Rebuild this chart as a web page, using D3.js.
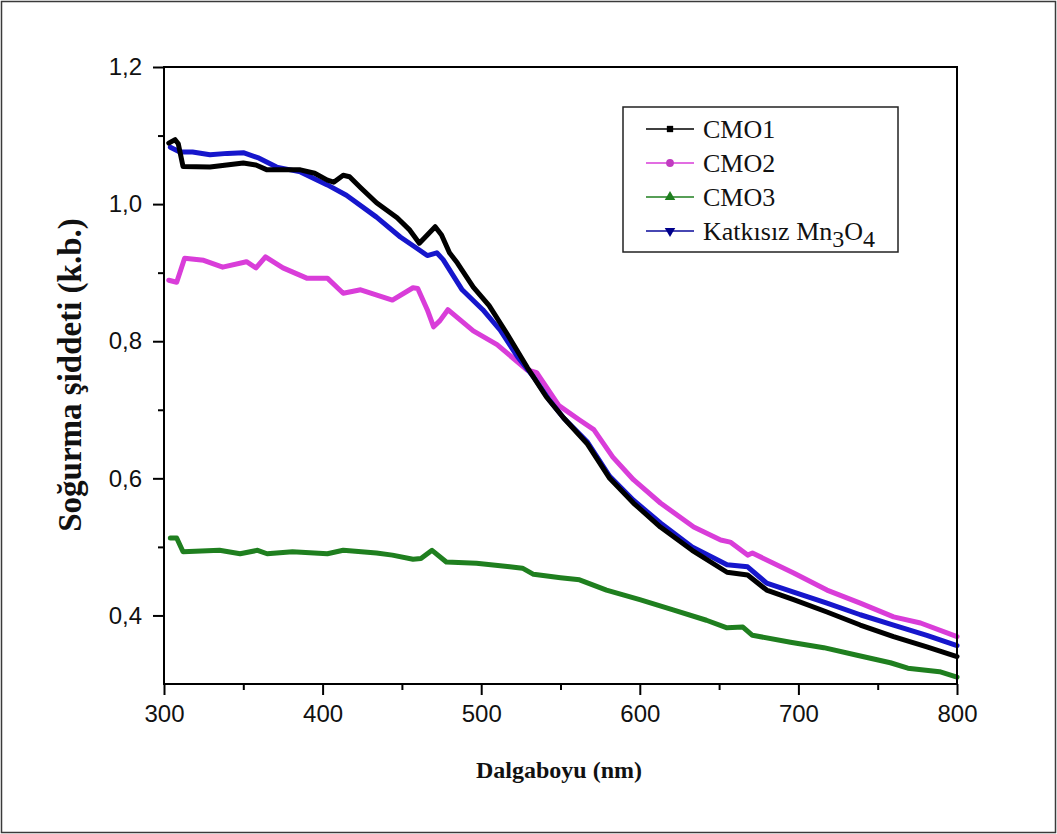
<!DOCTYPE html>
<html>
<head>
<meta charset="utf-8">
<script src="https://cdn.jsdelivr.net/npm/d3@7"></script>
<style>
  html, body { margin: 0; padding: 0; background: #fff; }
  svg { display: block; }
</style>
</head>
<body>
<svg id="chart" width="1057" height="834"></svg>
<script>
// ---- DATA ----
const seriesNames = ["CMO1", "CMO2", "CMO3", "Katkısız Mn3O4"];

const cmo1Wl = [303,307,309,312,329,350,358,365,386,395,403,407,413,417,424,434,447,455,461,466,471,475,480,485,495,505,516,529,541,552,567,581,596,613,633,655,668,680,697,718,739,760,781,800];
const cmo1Abs = [1.089,1.094,1.088,1.055,1.054,1.060,1.057,1.050,1.050,1.045,1.035,1.032,1.042,1.040,1.024,1.002,0.980,0.962,0.943,0.955,0.967,0.955,0.929,0.914,0.879,0.852,0.812,0.762,0.719,0.688,0.650,0.600,0.564,0.529,0.495,0.463,0.459,0.437,0.423,0.405,0.386,0.369,0.354,0.340];

const cmo2Wl = [303,308,313,325,337,352,358,364,375,390,403,413,424,444,457,460,466,470,474,479,495,510,529,535,549,562,571,583,596,613,634,651,657,668,671,697,718,739,760,777,800];
const cmo2Abs = [0.889,0.886,0.921,0.918,0.908,0.916,0.907,0.923,0.907,0.892,0.892,0.870,0.875,0.860,0.878,0.877,0.846,0.821,0.830,0.846,0.815,0.795,0.758,0.754,0.706,0.685,0.671,0.631,0.598,0.564,0.529,0.510,0.507,0.488,0.491,0.462,0.437,0.418,0.398,0.389,0.369];

const cmo3Wl = [304,308,312,335,348,359,365,381,403,413,434,444,457,462,469,478,497,518,526,533,550,562,579,600,621,642,655,665,671,695,716,737,758,769,789,800];
const cmo3Abs = [0.513,0.513,0.493,0.495,0.490,0.495,0.490,0.493,0.490,0.495,0.491,0.488,0.482,0.483,0.495,0.478,0.476,0.471,0.469,0.460,0.455,0.452,0.437,0.423,0.408,0.393,0.382,0.383,0.371,0.361,0.353,0.342,0.331,0.323,0.318,0.310];

const mnWl = [304,310,318,329,340,350,360,371,386,403,415,434,449,461,466,472,476,488,501,512,523,533,543,552,567,581,596,613,633,655,668,680,697,718,739,760,781,800];
const mnAbs = [1.083,1.076,1.076,1.072,1.074,1.075,1.067,1.054,1.047,1.028,1.013,0.981,0.952,0.933,0.925,0.929,0.919,0.875,0.846,0.816,0.777,0.748,0.714,0.688,0.653,0.603,0.568,0.535,0.500,0.474,0.471,0.447,0.434,0.418,0.401,0.386,0.371,0.356];

const xTicks = [300, 400, 500, 600, 700, 800];
const xMinorTicks = [350, 450, 550, 650, 750];
const yTicks = [0.4, 0.6, 0.8, 1.0, 1.2];
const yTickLabels = ["0,4", "0,6", "0,8", "1,0", "1,2"];
const yMinorTicks = [0.5, 0.7, 0.9, 1.1];

const xLabel = "Dalgaboyu (nm)";
const yLabel = "Soğurma şiddeti (k.b.)";

// ---- LAYOUT ----
const W = 1057, H = 834;
const plot = { left: 164, right: 957, top: 67, bottom: 684 };

const svg = d3.select("#chart");

// outer border of the picture
svg.append("rect")
  .attr("x", 1.5).attr("y", 1.5)
  .attr("width", W - 3).attr("height", H - 3)
  .attr("fill", "none").attr("stroke", "#3a3a3a").attr("stroke-width", 1.5);

const x = d3.scaleLinear().domain([300, 800]).range([plot.left, plot.right]);
const y = d3.scaleLinear().domain([0.3, 1.2]).range([plot.bottom, plot.top]);

const colors = ["#000000", "#d93dd9", "#1f7f1f", "#1616cc"];
const markerColors = ["#000000", "#c03cc0", "#1f7f1f", "#00008b"];

const series = [
  { name: seriesNames[0], wl: cmo1Wl, v: cmo1Abs },
  { name: seriesNames[1], wl: cmo2Wl, v: cmo2Abs },
  { name: seriesNames[2], wl: cmo3Wl, v: cmo3Abs },
  { name: seriesNames[3], wl: mnWl, v: mnAbs }
];

const line = d3.line().x(d => x(d[0])).y(d => y(d[1]));

const gLines = svg.append("g");
[1, 2, 3, 0].forEach(i => {
  const s = series[i];
  gLines.append("path")
    .datum(s.wl.map((w, k) => [w, s.v[k]]))
    .attr("d", line)
    .attr("fill", "none")
    .attr("stroke", colors[i])
    .attr("stroke-width", 5)
    .attr("stroke-linejoin", "round")
    .attr("stroke-linecap", "round");
});

// ---- AXES ----
const tickFont = "'Liberation Sans', Arial, sans-serif";

const xAxis = d3.axisBottom(x).tickValues(xTicks).tickSize(11).tickSizeOuter(0).tickPadding(10).tickFormat(d3.format("d"));
const gx = svg.append("g").attr("transform", `translate(0,${plot.bottom})`).call(xAxis);
const xMinor = d3.axisBottom(x).tickValues(xMinorTicks).tickSize(6).tickSizeOuter(0).tickFormat("");
const gxm = svg.append("g").attr("transform", `translate(0,${plot.bottom})`).call(xMinor);

const yAxis = d3.axisLeft(y).tickValues(yTicks).tickSize(11).tickSizeOuter(0).tickPadding(11)
  .tickFormat((d, i) => yTickLabels[i]);
const gy = svg.append("g").attr("transform", `translate(${plot.left},0)`).call(yAxis);
const yMinor = d3.axisLeft(y).tickValues(yMinorTicks).tickSize(6).tickSizeOuter(0).tickFormat("");
const gym = svg.append("g").attr("transform", `translate(${plot.left},0)`).call(yMinor);

[gx, gxm, gy, gym].forEach(g => {
  g.select(".domain").remove();
  g.selectAll(".tick line").attr("stroke", "#000").attr("stroke-width", 2);
  g.selectAll(".tick text").attr("fill", "#111")
    .style("font-family", tickFont).style("font-size", "24px");
});

// frame
svg.append("rect")
  .attr("x", plot.left).attr("y", plot.top)
  .attr("width", plot.right - plot.left).attr("height", plot.bottom - plot.top)
  .attr("fill", "none").attr("stroke", "#000").attr("stroke-width", 2);

// axis titles
svg.append("text")
  .attr("x", 559).attr("y", 778)
  .attr("text-anchor", "middle")
  .style("font-family", "'Liberation Serif', 'Times New Roman', serif")
  .style("font-weight", "bold").style("font-size", "24px")
  .attr("fill", "#111")
  .text(xLabel);

svg.append("text")
  .attr("transform", `translate(81,375) rotate(-90)`)
  .attr("text-anchor", "middle")
  .style("font-family", "'Liberation Serif', 'Times New Roman', serif")
  .style("font-weight", "bold").style("font-size", "33px")
  .attr("fill", "#111")
  .text(yLabel);

// ---- LEGEND ----
const leg = svg.append("g");
leg.append("rect")
  .attr("x", 623).attr("y", 107).attr("width", 275).attr("height", 145)
  .attr("fill", "#fff").attr("stroke", "#222").attr("stroke-width", 1.5);

const legRows = [129, 163, 197, 231];
const symbols = [d3.symbolSquare, d3.symbolCircle, d3.symbolTriangle, d3.symbolTriangle];
series.forEach((s, i) => {
  const yy = legRows[i];
  leg.append("line")
    .attr("x1", 646).attr("x2", 694).attr("y1", yy).attr("y2", yy)
    .attr("stroke", i === 3 ? "#0a0a9a" : colors[i]).attr("stroke-width", 1.5);
  leg.append("path")
    .attr("d", d3.symbol().type(symbols[i]).size(i === 0 ? 40 : 48)())
    .attr("transform", `translate(670,${yy})` + (i === 3 ? " rotate(180)" : ""))
    .attr("fill", markerColors[i]);
  const t = leg.append("text")
    .attr("x", 703).attr("y", yy + 9)
    .style("font-family", "'Liberation Serif', 'Times New Roman', serif")
    .style("font-size", "26px")
    .attr("fill", "#111");
  if (i === 3) {
    t.append("tspan").text("Katkısız Mn");
    t.append("tspan").attr("dy", 7).style("font-size", "24px").text("3");
    t.append("tspan").attr("dy", -7).text("O");
    t.append("tspan").attr("dy", 7).style("font-size", "24px").text("4");
  } else {
    t.text(s.name);
  }
});
</script>
</body>
</html>
